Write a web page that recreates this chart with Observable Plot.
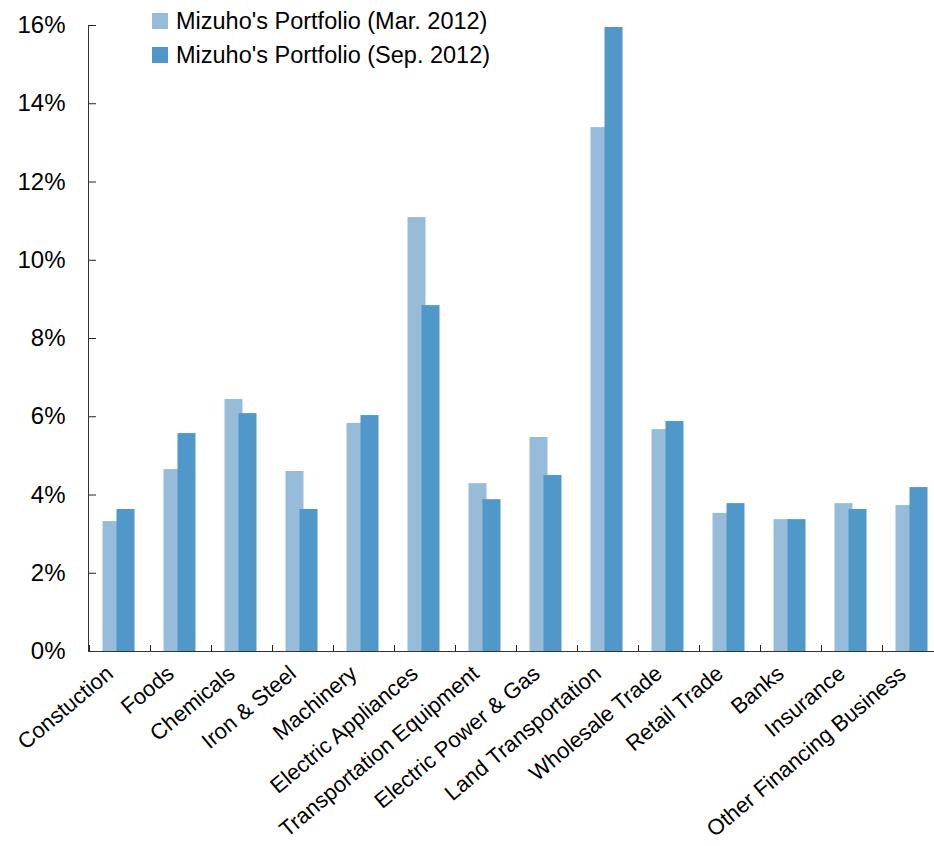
<!DOCTYPE html>
<html><head><meta charset="utf-8">
<script src="https://cdn.jsdelivr.net/npm/d3@7"></script>
<script src="https://cdn.jsdelivr.net/npm/@observablehq/plot@0.6"></script>
<style>
body{margin:0;background:#fff;overflow:hidden}
#wrap{position:relative;width:934px;height:846px}
.leg{position:absolute;left:152px;height:16px;font:23.5px Arial,"Liberation Sans",sans-serif;color:#000;display:flex;align-items:center;white-space:nowrap}
.sw{width:16px;height:16px;margin-right:8px;flex:none}
</style></head><body><div id="wrap"></div>
<script>
const categories = ["Constuction","Foods","Chemicals","Iron & Steel","Machinery","Electric Appliances","Transportation Equipment","Electric Power & Gas","Land Transportation","Wholesale Trade","Retail Trade","Banks","Insurance","Other Financing Business"];
const seriesNames = ["Mizuho's Portfolio (Mar. 2012)","Mizuho's Portfolio (Sep. 2012)"];
const valuesMar = [3.32,4.65,6.44,4.60,5.83,11.09,4.29,5.47,13.39,5.67,3.53,3.37,3.78,3.73];
const valuesSep = [3.63,5.57,6.08,3.63,6.03,8.84,3.88,4.50,15.95,5.88,3.78,3.37,3.63,4.19];
const yTicks = [0,2,4,6,8,10,12,14,16];
const colors = ["#96BCDA","#5097CA"];

const rows = categories.map((c,i)=>({category:c, mar:valuesMar[i], sep:valuesSep[i]}));

const chart = Plot.plot({
  width: 934, height: 846,
  marginLeft: 89, marginRight: -9, marginTop: 25, marginBottom: 195,
  style: {fontFamily: 'Arial, "Liberation Sans", sans-serif', background: "white", color: "#000"},
  x: {domain: categories, padding: 0, label: null},
  y: {domain: [0,16], label: null},
  marks: [
    Plot.barY(rows, {x:"category", y:"mar", fill: colors[0], insetLeft: 13.5, insetRight: 29.5}),
    Plot.barY(rows, {x:"category", y:"sep", fill: colors[1], insetLeft: 27.5, insetRight: 15.5}),
    Plot.axisY({ticks: yTicks, tickFormat: d => d + "%", tickSize: 7, dx: 7, tickPadding: 24, fontSize: 24, stroke: "#222", fill: "#000", label: null}),
    Plot.axisX({tickSize: 6, dy: -6, dx: -30.5, fill: "none", stroke: "#222", label: null}),
    Plot.axisX({tickSize: 0, tickPadding: 19, tickRotate: -40, dx: -10, fontSize: 22, fill: "#000", label: null}),
    Plot.ruleY([0], {stroke: "#333"}),
    Plot.frame({anchor: "left", stroke: "#333", dx: -1})
  ]
});
const wrap = document.getElementById("wrap");
wrap.appendChild(chart);
seriesNames.forEach((name,i)=>{
  const d = document.createElement("div");
  d.className = "leg";
  d.style.top = (13 + i*34) + "px";
  d.innerHTML = `<div class="sw" style="background:${colors[i]}"></div><span></span>`;
  d.querySelector("span").textContent = name;
  wrap.appendChild(d);
});
</script></body></html>
